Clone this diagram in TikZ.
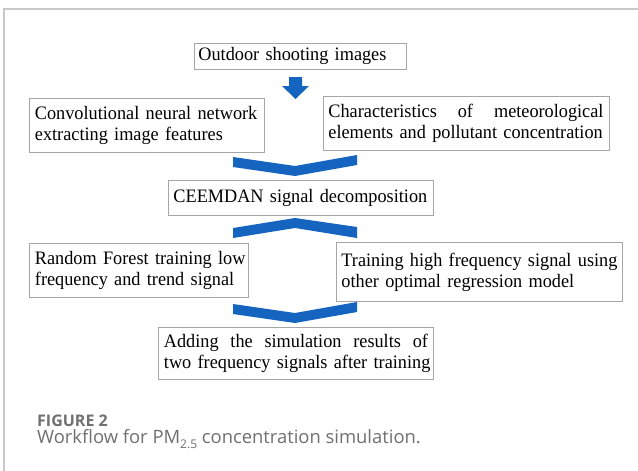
\documentclass[tikz,border=0pt]{standalone}
\usepackage{fontspec}
\setmainfont[FakeStretch=0.96]{Liberation Serif}
\newfontfamily\capfont{Open Sans}
\definecolor{chev}{HTML}{1565C0}
\definecolor{boxline}{HTML}{A6A6A6}
\definecolor{frameline}{HTML}{C8C8C8}
\definecolor{capgray}{HTML}{707070}
\begin{document}
\begin{tikzpicture}[x=1pt,y=-1pt,
  box/.style={draw=boxline, line width=0.9pt, anchor=north west, inner ysep=0pt,
    font=\fontsize{19}{21}\selectfont, align=left},
  chevfill/.style={fill=chev},
  captext/.style={anchor=base west, inner sep=0pt, text=capgray}]
\useasboundingbox (0,0) rectangle (638,471);
\fill[white] (0,0) rectangle (638,471);
\draw[frameline, line width=1.5pt] (4,471) -- (4,9) -- (638,9);

\node[box, inner xsep=4pt, text width=204pt, minimum height=26pt] (out) at (194,43)
  {\mbox{Outdoor shooting images}};
\node[box, inner xsep=6pt, text width=223.5pt, minimum height=54pt] (conv) at (28.5,98)
  {\mbox{Convolutional neural network}\\\mbox{extracting image features}};
\node[box, inner xsep=5pt, text width=276pt, minimum height=54pt] (char) at (323,96)
  {\makebox[275pt][s]{Characteristics\hfill of\hfill meteorological}\\\mbox{elements and pollutant concentration}};
\node[box, inner xsep=5pt, text width=255pt, minimum height=35pt] (ceem) at (168,180)
  {\mbox{CEEMDAN signal decomposition}};
\node[box, inner xsep=6pt, text width=207.5pt, minimum height=54pt] (rf) at (28.5,243)
  {\mbox{Random Forest training low}\\\mbox{frequency and trend signal}};
\node[box, inner xsep=5pt, text width=276pt, minimum height=59pt] (train) at (336,242)
  {\mbox{Training high frequency signal using}\\\mbox{other optimal regression model}};
\node[box, inner xsep=5.5pt, text width=264pt, minimum height=52pt] (add) at (158,327)
  {\makebox[264pt][s]{Adding\hfill the\hfill simulation\hfill results\hfill of}\\\mbox{two frequency signals after training}};

% block arrow
\fill[chevfill] (289,77) -- (302,77) -- (302,86) -- (309,86) -- (295.5,99) -- (282,86) -- (289,86) -- cycle;
% chevrons
\fill[chevfill] (233,157) -- (295,166) -- (357,155) -- (357,165) -- (295,176) -- (233,167) -- cycle;
\fill[chevfill] (233,228) -- (295,218) -- (357,227) -- (357,238) -- (295,228) -- (233,238) -- cycle;
\fill[chevfill] (233,304) -- (295,313) -- (357,302) -- (357,312) -- (295,323) -- (233,314) -- cycle;

\node[captext, font=\capfont\bfseries\fontsize{16}{18}\selectfont] (fig) at (37,426) {FIGURE 2};
\node[captext, font=\capfont\fontsize{18.4}{20}\selectfont] (cap) at (37,443)
  {Workflow for PM\raisebox{-0.3em}{\fontsize{12}{12}\selectfont 2.5} concentration simulation.};
\end{tikzpicture}
\end{document}
